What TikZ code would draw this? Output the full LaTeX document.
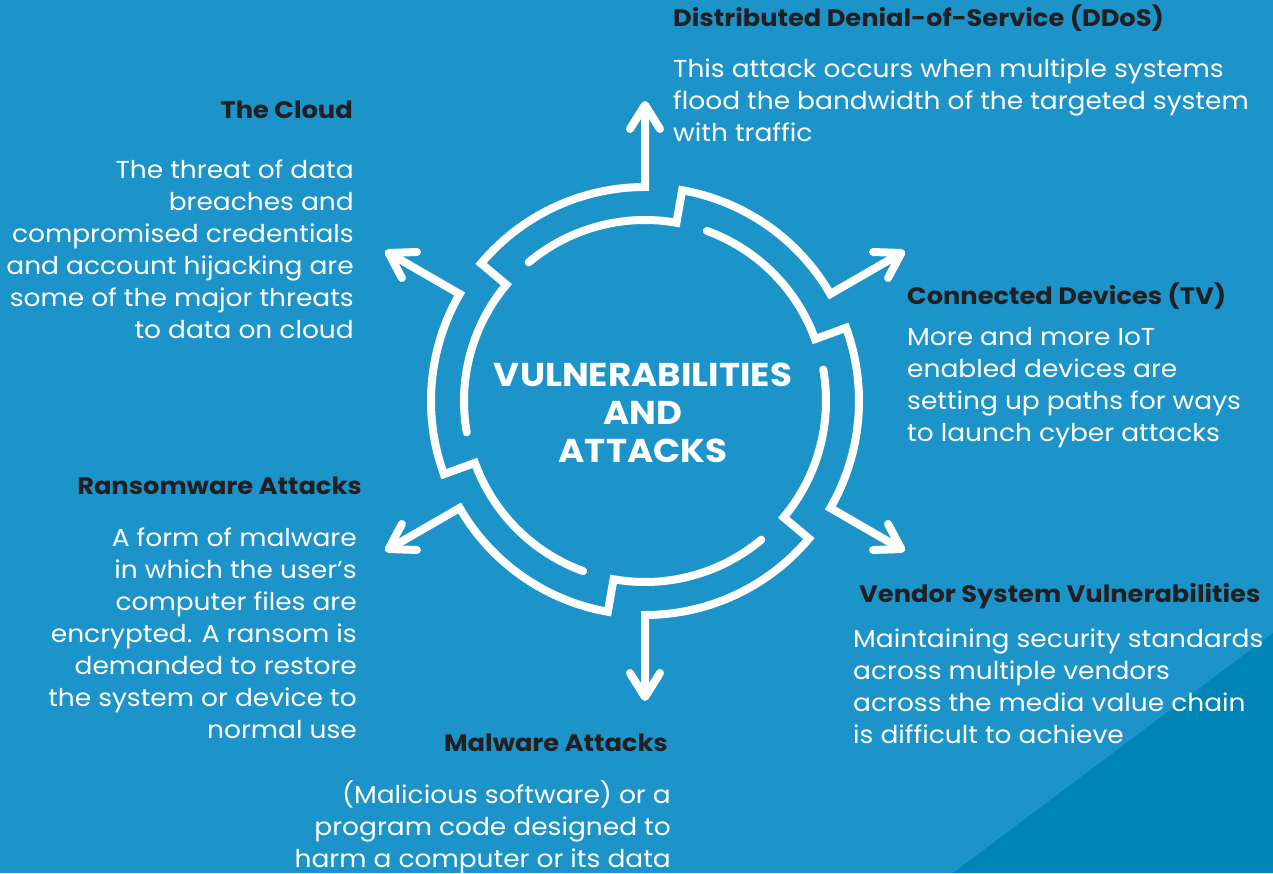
\documentclass[tikz,border=0pt]{standalone}
\usepackage{fontspec}
\setmainfont{Poppins}[FakeStretch=1.08]
\usetikzlibrary{arrows.meta,positioning}
\definecolor{bgblue}{RGB}{28,148,201}
\definecolor{cornerblue}{RGB}{0,132,182}
\definecolor{headgray}{RGB}{35,31,32}
\tikzset{%
  ring/.style={draw=white, line width=8pt, line cap=round, line join=miter},
  ringarrow/.style={ring, {Straight Barb[round, length=24pt, width=30pt]}-},
  head/.style={font=\bfseries\fontsize{23.8}{32}\selectfont, text=headgray, inner sep=0pt},
  body/.style={font=\fontsize{24.5}{32}\selectfont, text=white, inner sep=0pt},
  title/.style={font=\bfseries\fontsize{33}{38}\selectfont, text=white, inner sep=0pt, align=center}
}
\begin{document}
\begin{tikzpicture}[x=1pt, y=1pt]

          \useasboundingbox (-645,-472) rectangle (628,401);
          \fill[bgblue] (-645,-472) rectangle (628,401);
          \fill[cornerblue] (308,-472) -- (628,-472) -- (628,-232) -- cycle;

          % arrow tips
          \coordinate (ddos) at (90:300);
          \coordinate (devices) at (30:300);
          \coordinate (vendor) at (-30:300);
          \coordinate (malware) at (-90:300);
          \coordinate (ransom) at (-150:300);
          \coordinate (cloud) at (150:300);

          \draw[ringarrow] (ddos) -- (90:214) arc[start angle=90, end angle=140, radius=214] -- (140:181) arc[start angle=140, end angle=190, radius=181];
          \draw[ringarrow] (devices) -- (30:214) arc[start angle=30, end angle=80, radius=214] -- (80:181) arc[start angle=80, end angle=130, radius=181];
          \draw[ringarrow] (vendor) -- (-30:214) arc[start angle=-30, end angle=20, radius=214] -- (20:181) arc[start angle=20, end angle=70, radius=181];
          \draw[ringarrow] (malware) -- (-90:214) arc[start angle=-90, end angle=-40, radius=214] -- (-40:181) arc[start angle=-40, end angle=10, radius=181];
          \draw[ringarrow] (ransom) -- (-150:214) arc[start angle=-150, end angle=-100, radius=214] -- (-100:181) arc[start angle=-100, end angle=-50, radius=181];
          \draw[ringarrow] (cloud) -- (150:214) arc[start angle=150, end angle=200, radius=214] -- (200:181) arc[start angle=200, end angle=250, radius=181];

          \node[title, anchor=north] (centre) at (-2,41) {\strut VULNERABILITIES\\AND\\ATTACKS};

          \node[head, anchor=base west] (ddos head) at (28,374) {Distributed Denial-of-Service (DDoS)};
          \node[body, anchor=north west, align=left] (ddos text) at (28,346.4) {\strut This attack occurs when multiple systems\\flood the bandwidth of the targeted system\\with traffic};

          \node[head, anchor=base east] (cloud head) at (-292,282) {The Cloud};
          \node[body, anchor=north east, align=right] (cloud text) at (-291,245.4) {\strut The threat of data\\breaches and\\compromised credentials\\and account hijacking are\\some of the major threats\\to data on cloud};

          \node[head, anchor=base west] (devices head) at (262,97) {Connected Devices (TV)};
          \node[body, anchor=north west, align=left] (devices text) at (262,78.4) {\strut More and more IoT\\enabled devices are\\setting up paths for ways\\to launch cyber attacks};

          \node[head, anchor=base east] (ransom head) at (-283,-93) {Ransomware Attacks};
          \node[body, anchor=north east, align=right] (ransom text) at (-288,-122.6) {\strut A form of malware\\in which the user’s\\computer files are\\encrypted. A ransom is\\demanded to restore\\the system or device to\\normal use};

          \node[head, anchor=base west] (vendor head) at (214,-201) {Vendor System Vulnerabilities};
          \node[body, anchor=north west, align=left] (vendor text) at (208,-223.6) {\strut Maintaining security standards\\across multiple vendors\\across the media value chain\\is difficult to achieve};

          \node[head, anchor=base east] (malware head) at (23,-350) {Malware Attacks};
          \node[body, anchor=north east, align=right] (malware text) at (26,-379) {\strut (Malicious software) or a\\program code designed to\\harm a computer or its data};
        \end{tikzpicture}
\end{document}
